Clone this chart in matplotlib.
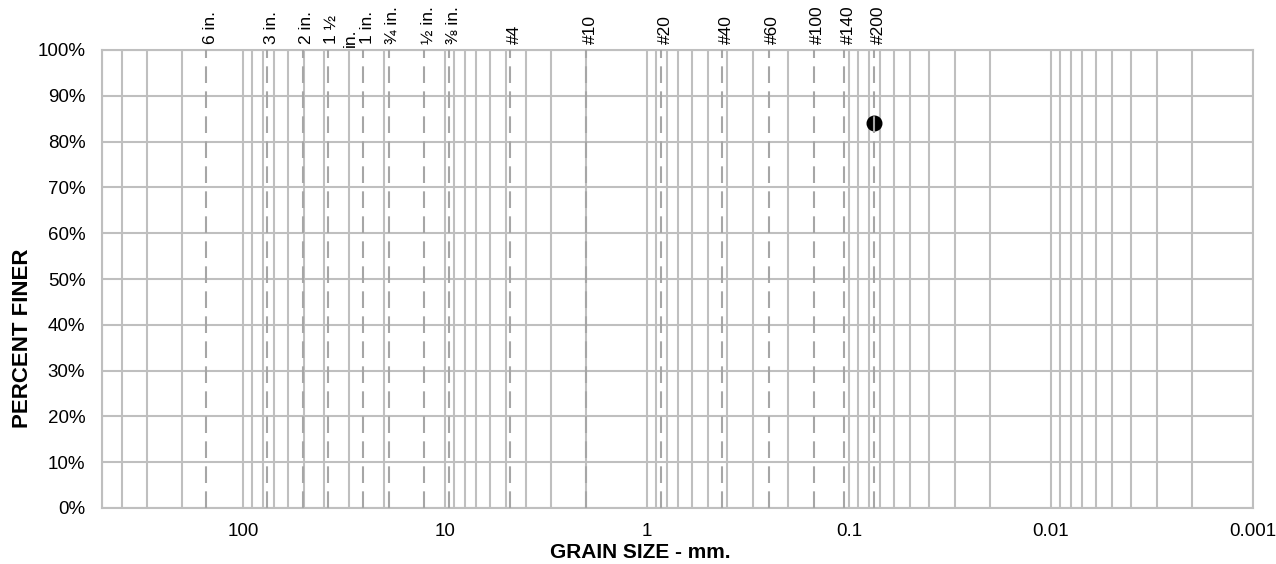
import matplotlib
matplotlib.use("Agg")
import matplotlib.pyplot as plt
import matplotlib.transforms as mtransforms
from matplotlib.ticker import FixedLocator, LogLocator, NullFormatter, FixedFormatter

plt.rcParams['font.family'] = ['Liberation Sans', 'DejaVu Sans']

# ---- data ----
sieve_labels = ["6 in.", "3 in.", "2 in.", "1 ½\nin.", "1 in.", "¾ in.", "½ in.", "⅜ in.",
                "#4", "#10", "#20", "#40", "#60", "#100", "#140", "#200"]
sieve_sizes_mm = [152.4, 76.2, 50.8, 38.1, 25.4, 19.05, 12.7, 9.525,
                  4.75, 2.0, 0.85, 0.425, 0.25, 0.15, 0.106, 0.075]
grain_size_mm = [0.075]
percent_finer = [0.84]
x_tick_values = [100, 10, 1, 0.1, 0.01, 0.001]
x_tick_labels = ["100", "10", "1", "0.1", "0.01", "0.001"]
y_tick_values = [0.0, 0.1, 0.2, 0.3, 0.4, 0.5, 0.6, 0.7, 0.8, 0.9, 1.0]
y_tick_labels = ["0%", "10%", "20%", "30%", "40%", "50%", "60%", "70%", "80%", "90%", "100%"]

W, H = 1276, 564
fig = plt.figure(figsize=(W / 100, H / 100), dpi=100)
ax = fig.add_axes([102 / W, 1 - 508 / H, (1253 - 102) / W, (508 - 50) / H])

grid_col = "#BFBFBF"
dash_col = "#A6A6A6"

ax.set_xscale("log")
ax.set_xlim(500, 0.001)
ax.set_ylim(0, 1)

ax.xaxis.set_major_locator(FixedLocator(x_tick_values))
ax.xaxis.set_major_formatter(FixedFormatter(x_tick_labels))
ax.xaxis.set_minor_locator(LogLocator(base=10, subs=range(2, 10)))
ax.xaxis.set_minor_formatter(NullFormatter())
ax.yaxis.set_major_locator(FixedLocator(y_tick_values))
ax.yaxis.set_major_formatter(FixedFormatter(y_tick_labels))

ax.grid(True, which="both", axis="x", color=grid_col, linewidth=1.5, zorder=0)
ax.grid(True, which="major", axis="y", color=grid_col, linewidth=1.5, zorder=0)
ax.set_axisbelow(True)
for s in ax.spines.values():
    s.set_color(grid_col)
    s.set_linewidth(1.5)

ax.tick_params(axis="both", which="both", length=0, labelsize=13.5, labelcolor="#000000")
ax.tick_params(axis="y", pad=12)
ax.tick_params(axis="x", pad=11)

# data point
ax.plot(grain_size_mm, percent_finer, linestyle="none", marker="o", markersize=10.5,
        markerfacecolor="black", markeredgecolor="black", zorder=3)

# sieve dashed lines and labels
trans = mtransforms.blended_transform_factory(ax.transData, ax.transAxes)
for lab, size in zip(sieve_labels, sieve_sizes_mm):
    ax.axvline(size, color=dash_col, linewidth=1.5, linestyle=(0, (8, 4)), zorder=4)
    lines = lab.split("\n")
    for i, ln in enumerate(lines):
        t = mtransforms.offset_copy(trans, fig=fig, x=4 + i * 19, y=6 if i == 0 else 3, units="dots")
        ax.text(size, 1.0, ln, transform=t, rotation=90, ha="center", va="bottom",
                fontsize=12.5, color="black", clip_on=False)

fig.text(640 / W, 1 - 553 / H, "GRAIN SIZE - mm.", ha="center", va="center",
         fontsize=15, fontweight="bold")
fig.text(23 / W, 1 - 338 / H, "PERCENT FINER", ha="center", va="center", rotation=90,
         fontsize=16, fontweight="bold")

fig.savefig("out.png", dpi=100)
